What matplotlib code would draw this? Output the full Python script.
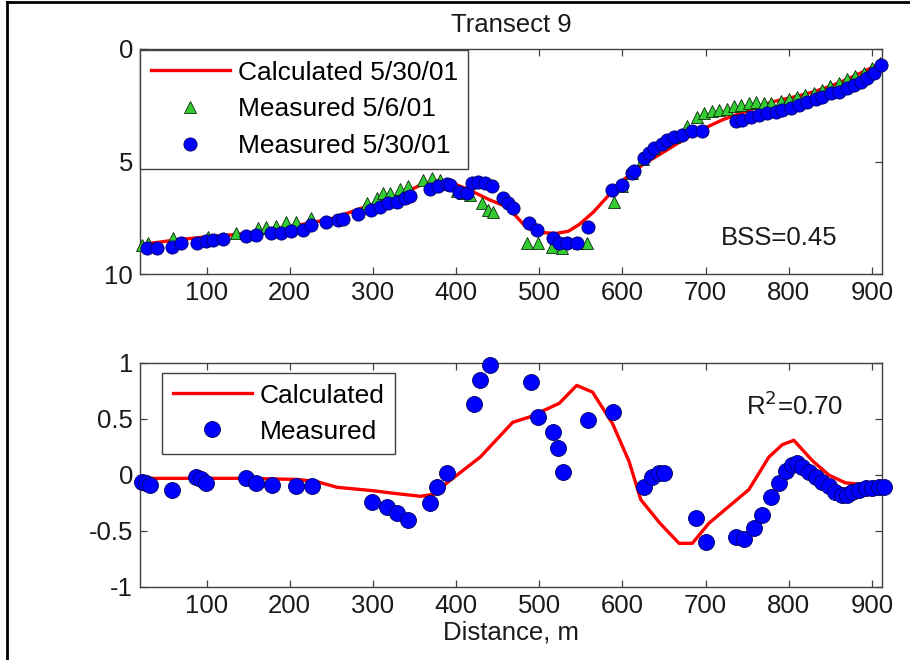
import matplotlib
matplotlib.use("Agg")
import matplotlib.pyplot as plt
from matplotlib.lines import Line2D

plt.rcParams['font.family'] = ['Liberation Sans', 'DejaVu Sans']
plt.rcParams['font.size'] = 18.5

# ---- Top panel: profile depth (m) along Transect 9 ----
calc_x = [20, 60, 100, 150, 200, 250, 300, 340, 360, 378, 395, 415, 440, 460, 470,
          485, 500, 520, 535, 548, 565, 581, 600, 624, 653, 677, 700, 720, 750,
          780, 810, 830, 850, 870, 890, 912]
calc_z = [8.7, 8.5, 8.35, 8.2, 7.9, 7.55, 6.9, 6.35, 6.0, 5.85, 5.95, 6.25, 6.7, 7.0,
          7.35, 7.95, 8.15, 8.2, 8.1, 7.8, 7.25, 6.6, 5.85, 5.15, 4.5, 3.95, 3.5,
          3.15, 2.75, 2.35, 2.1, 1.9, 1.65, 1.35, 1.0, 0.6]

may6_x = [22, 30, 60, 102, 135, 162, 171, 183, 195, 208, 226, 293, 305, 312, 321,
          333, 342, 360, 371, 381, 401, 408, 417, 431, 438, 444, 485, 498, 515,
          527, 548, 557, 590, 600, 612, 625, 638, 650, 662, 677, 689, 698, 708,
          716, 726, 734, 743, 752, 760, 770, 778, 790, 800, 810, 820, 830, 840,
          850, 860, 870, 880, 890, 900, 910]
may6_z = [8.7, 8.6, 8.4, 8.35, 8.2, 7.95, 7.9, 7.85, 7.7, 7.7, 7.5, 6.85, 6.6, 6.4,
          6.4, 6.2, 6.1, 5.8, 5.75, 5.8, 6.3, 6.4, 6.5, 6.85, 7.15, 7.25, 8.6, 8.6,
          8.8, 8.85, 8.6, 8.6, 6.8, 6.1, 5.5, 4.9, 4.4, 4.1, 3.9, 3.4, 3.0, 2.85,
          2.75, 2.7, 2.65, 2.55, 2.5, 2.42, 2.35, 2.4, 2.4, 2.3, 2.2, 2.15, 2.05,
          1.95, 1.8, 1.65, 1.5, 1.35, 1.2, 1.05, 0.85, 0.6]

may30_x = [28, 40, 58, 69, 88, 99, 108, 120, 147, 159, 178, 189, 201, 216, 226, 244,
           258, 264, 282, 298, 309, 318, 329, 339, 345, 369, 378, 389, 393, 404,
           413, 419, 426, 435, 443, 456, 462, 468, 488, 497, 516, 524, 533, 545,
           558, 588, 599, 611, 614, 626, 632, 638, 647, 654, 662, 671, 684, 696,
           737, 744, 755, 764, 774, 785, 792, 803, 812, 822, 833, 840, 851, 860,
           870, 878, 887, 894, 902, 911]
may30_z = [8.85, 8.85, 8.8, 8.6, 8.6, 8.55, 8.5, 8.45, 8.3, 8.25, 8.2, 8.2, 8.1, 8.05,
           7.8, 7.7, 7.6, 7.55, 7.35, 7.15, 7.0, 6.85, 6.8, 6.6, 6.55, 6.2, 6.1,
           6.0, 6.05, 6.35, 6.4, 5.95, 5.9, 5.95, 6.1, 6.6, 6.85, 7.05, 7.75, 8.05,
           8.4, 8.6, 8.6, 8.6, 7.9, 6.25, 6.05, 5.5, 5.4, 4.85, 4.6, 4.4, 4.2,
           4.05, 3.9, 3.8, 3.65, 3.65, 3.2, 3.15, 3.0, 2.95, 2.85, 2.8, 2.7, 2.6,
           2.5, 2.35, 2.2, 2.15, 1.95, 1.9, 1.75, 1.6, 1.45, 1.3, 1.05, 0.7]

# ---- Bottom panel: elevation change (m) ----
dcalc_x = [20, 100, 150, 210, 233, 257, 300, 321, 357, 375, 389, 429, 468, 489, 524,
           545, 564, 588, 608, 622, 645, 668, 684, 704, 752, 776, 792, 806, 828,
           848, 868, 912]
dcalc_y = [-0.03, -0.03, -0.03, -0.04, -0.06, -0.11, -0.14, -0.16, -0.19, -0.17,
           -0.07, 0.16, 0.47, 0.52, 0.64, 0.80, 0.74, 0.46, 0.12, -0.22, -0.43,
           -0.61, -0.61, -0.43, -0.13, 0.16, 0.27, 0.31, 0.13, 0.0, -0.07, -0.10]

dmeas_x = [22, 27, 32, 59, 87, 93, 99, 147, 159, 179, 207, 227, 299, 317, 329, 342,
           369, 377, 389, 421, 429, 441, 490, 498, 517, 523, 529, 559, 589, 626,
           636, 644, 650, 688, 700, 737, 746, 758, 768, 778, 788, 796, 804, 810,
           816, 824, 833, 840, 848, 856, 864, 870, 876, 884, 893, 900, 908, 914]
dmeas_y = [-0.06, -0.07, -0.09, -0.13, -0.02, -0.04, -0.07, -0.03, -0.07, -0.09,
           -0.10, -0.10, -0.24, -0.29, -0.34, -0.40, -0.25, -0.11, 0.02, 0.63, 0.85,
           0.98, 0.83, 0.52, 0.38, 0.24, 0.03, 0.49, 0.56, -0.11, -0.02, 0.02, 0.02,
           -0.38, -0.60, -0.55, -0.57, -0.47, -0.36, -0.20, -0.07, 0.04, 0.09, 0.11,
           0.07, 0.03, -0.02, -0.06, -0.10, -0.15, -0.18, -0.18, -0.15, -0.13,
           -0.12, -0.12, -0.11, -0.11]

x_ticks = [100, 200, 300, 400, 500, 600, 700, 800, 900]
top_yticks = [0, 5, 10]
top_yticklabels = ['0', '5', '10']
bot_yticks = [-1, -0.5, 0, 0.5, 1]
bot_yticklabels = ['-1', '-0.5', '0', '0.5', '1']

RED = '#ff0000'
BLUE = '#0000ff'
GREEN = '#33cc33'
AXC = '#404040'
TXT = '#1a1a1a'
FS = 18.5
LEG_FS = 19

fig = plt.figure(figsize=(9.1, 6.6), dpi=100)
ax1 = fig.add_axes([140 / 910, 1 - 274 / 660, 742 / 910, 225 / 660])
ax2 = fig.add_axes([140 / 910, 1 - 587 / 660, 742 / 910, 224 / 660])


def style(ax):
    for s in ax.spines.values():
        s.set_color(AXC)
        s.set_linewidth(1.0)
    ax.tick_params(direction='in', length=5, width=0.9, color=AXC,
                   top=True, right=True, labelsize=FS, labelcolor=TXT, pad=5)
    ax.set_xticks(x_ticks)
    ax.set_xticklabels([str(v) for v in x_ticks])
    ax.set_xlim(20, 912)


# Top panel
ax1.plot(calc_x, calc_z, color=RED, lw=2.4, label='Calculated 5/30/01', zorder=2)
ax1.plot(may6_x, may6_z, ls='none', marker='^', ms=9, mfc=GREEN, mec='#0a2a0a',
         mew=0.6, label='Measured 5/6/01', zorder=3, clip_on=False)
ax1.plot(may30_x, may30_z, ls='none', marker='o', ms=9.5, mfc=BLUE, mec='#000060',
         mew=0.6, label='Measured 5/30/01', zorder=4, clip_on=False)
style(ax1)
ax1.set_ylim(10, 0)
ax1.set_yticks(top_yticks)
ax1.set_yticklabels(top_yticklabels)
ax1.set_title('Transect 9', fontsize=FS, pad=12, color=TXT)
ax1.text(718, 8.4, 'BSS=0.45', fontsize=FS, color=TXT, va='center')
leg1 = ax1.legend(loc='upper left', bbox_to_anchor=(0.0, 0.995), fontsize=LEG_FS,
                  frameon=True, fancybox=False, framealpha=1, edgecolor=AXC,
                  handlelength=3.0, handletextpad=0.3, labelspacing=0.48,
                  borderpad=0.4, borderaxespad=0)
leg1.get_frame().set_linewidth(1.0)
leg1.set_zorder(10)

# Bottom panel
ax2.plot(dcalc_x, dcalc_y, color=RED, lw=2.4, label='Calculated', zorder=2)
ax2.plot(dmeas_x, dmeas_y, ls='none', marker='o', ms=11.5, mfc=BLUE, mec='#000060',
         mew=0.6, label='Measured', zorder=3, clip_on=False)
style(ax2)
ax2.set_ylim(-1, 1)
ax2.set_yticks(bot_yticks)
ax2.set_yticklabels(bot_yticklabels)
ax2.set_xlabel('Distance, m', fontsize=FS, color=TXT, labelpad=2)
ax2.text(748, 0.62, r'R$^2$=0.70', fontsize=FS, color=TXT, va='center')
leg2 = ax2.legend(loc='upper left', bbox_to_anchor=(0.03, 0.955), fontsize=LEG_FS,
                  frameon=True, fancybox=False, framealpha=1, edgecolor=AXC,
                  handlelength=3.0, handletextpad=0.3, labelspacing=0.45,
                  borderpad=0.4, borderaxespad=0)
leg2.get_frame().set_linewidth(1.0)
leg2.set_zorder(10)

# Frame lines at the left and top edge of the figure
fig.add_artist(Line2D([7 / 910, 7 / 910], [0, 1 - 2 / 660], color='black', lw=2,
                      transform=fig.transFigure))
fig.add_artist(Line2D([7 / 910, 1], [1 - 2 / 660, 1 - 2 / 660], color='black', lw=2,
                      transform=fig.transFigure))

fig.savefig('out.png', dpi=100)
